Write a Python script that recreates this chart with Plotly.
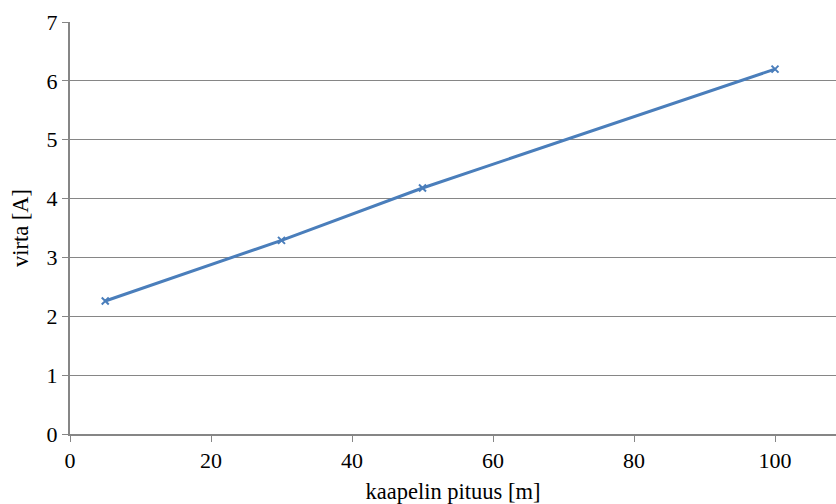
import plotly.graph_objects as go

# Current vs cable length
length_m = [5, 30, 50, 100]
current_a = [2.26, 3.29, 4.18, 6.2]

x_ticks = [0, 20, 40, 60, 80, 100]
y_ticks = [0, 1, 2, 3, 4, 5, 6, 7]

font_family = "Liberation Serif"

fig = go.Figure(
    go.Scatter(
        x=length_m,
        y=current_a,
        mode="lines+markers",
        line=dict(color="#4A7EBB", width=3),
        marker=dict(symbol="x-thin", size=7, color="#4A7EBB",
                    line=dict(color="#4A7EBB", width=2)),
        showlegend=False,
    )
)

fig.update_layout(
    width=836,
    height=504,
    margin=dict(l=70, r=0, t=22, b=70),
    paper_bgcolor="white",
    plot_bgcolor="white",
    font=dict(family=font_family, size=22, color="black"),
)

fig.update_xaxes(
    range=[0, 108.65],
    tickvals=x_ticks,
    showgrid=False,
    zeroline=False,
    showline=True,
    linecolor="#868686",
    linewidth=2,
    ticks="outside",
    ticklen=6,
    tickwidth=1,
    tickcolor="#868686",
    tickfont=dict(size=22, family=font_family),
    title=dict(text="kaapelin pituus [m]", font=dict(size=22.5, family=font_family), standoff=12),
)

fig.update_yaxes(
    range=[0, 7],
    tickvals=y_ticks,
    showgrid=True,
    gridcolor="#868686",
    gridwidth=1,
    zeroline=False,
    showline=True,
    linecolor="#868686",
    linewidth=2,
    ticks="outside",
    ticklen=6,
    tickwidth=1,
    tickcolor="#868686",
    tickfont=dict(size=22, family=font_family),
    title=dict(text="virta [A]", font=dict(size=22.5, family=font_family), standoff=12),
)

fig.write_html("out.html")
